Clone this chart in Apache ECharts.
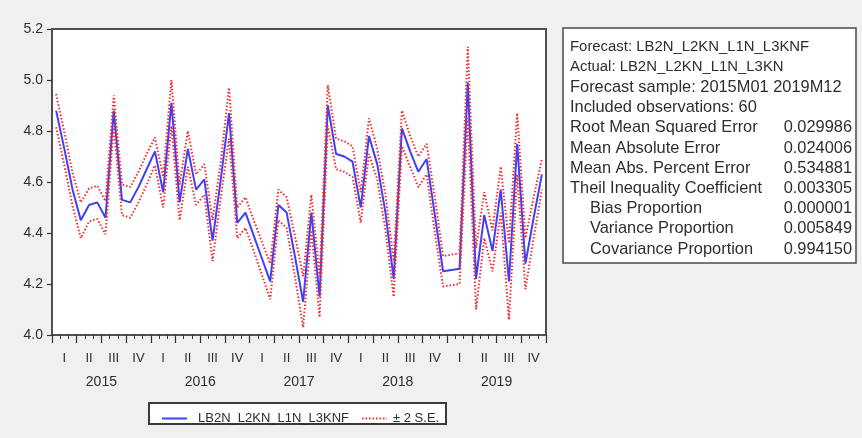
<!DOCTYPE html>
<html><head><meta charset="utf-8">
<script src="https://cdn.jsdelivr.net/npm/echarts@6/dist/echarts.min.js"></script>
<style>html,body{margin:0;padding:0;background:#f0f0f0;}#c{width:862px;height:438px;}</style>
</head><body><div id="c"></div>
<script>
const years = ['2015', '2016', '2017', '2018', '2019'];
const quarters = ['I', 'II', 'III', 'IV'];
const yTicks = [4.0, 4.2, 4.4, 4.6, 4.8, 5.0, 5.2];
const seriesNames = ['LB2N_L2KN_L1N_L3KNF', '± 2 S.E.'];

const forecast = [
  4.88, 4.73, 4.57, 4.45, 4.51, 4.52, 4.46, 4.88, 4.53, 4.52, 4.58, 4.65,
  4.72, 4.56, 4.91, 4.52, 4.73, 4.57, 4.61, 4.37, 4.61, 4.87, 4.44, 4.48,
  4.39, 4.30, 4.21, 4.51, 4.48, 4.31, 4.13, 4.48, 4.15, 4.90, 4.71, 4.70,
  4.68, 4.50, 4.78, 4.67, 4.48, 4.22, 4.81, 4.72, 4.64, 4.69, 4.47, 4.25,
  4.255, 4.26, 4.99, 4.22, 4.47, 4.33, 4.57, 4.21, 4.75, 4.28, 4.46, 4.63
];
const upper = [
  4.945, 4.795, 4.635, 4.52, 4.575, 4.585, 4.525, 4.94, 4.59, 4.58, 4.64, 4.71,
  4.775, 4.62, 5.00, 4.59, 4.80, 4.63, 4.67, 4.45, 4.68, 4.97, 4.50, 4.54,
  4.45, 4.365, 4.28, 4.57, 4.54, 4.39, 4.23, 4.55, 4.23, 4.98, 4.77, 4.76,
  4.74, 4.56, 4.85, 4.73, 4.55, 4.29, 4.88, 4.78, 4.70, 4.75, 4.54, 4.31,
  4.315, 4.32, 5.13, 4.34, 4.56, 4.41, 4.66, 4.36, 4.87, 4.38, 4.54, 4.69
];
const lower = [
  4.815, 4.665, 4.505, 4.38, 4.445, 4.455, 4.395, 4.82, 4.47, 4.46, 4.52, 4.59,
  4.665, 4.50, 4.82, 4.45, 4.66, 4.51, 4.55, 4.29, 4.54, 4.77, 4.38, 4.42,
  4.33, 4.235, 4.14, 4.45, 4.42, 4.23, 4.03, 4.41, 4.07, 4.82, 4.65, 4.64,
  4.62, 4.44, 4.71, 4.61, 4.41, 4.15, 4.74, 4.66, 4.58, 4.63, 4.40, 4.19,
  4.195, 4.20, 4.85, 4.10, 4.38, 4.25, 4.48, 4.06, 4.63, 4.18, 4.38, 4.57
];
const statsLabels = [
  'Forecast: LB2N_L2KN_L1N_L3KNF',
  'Actual: LB2N_L2KN_L1N_L3KN',
  'Forecast sample: 2015M01 2019M12',
  'Included observations: 60',
  'Root Mean Squared Error',
  'Mean Absolute Error',
  'Mean Abs. Percent Error',
  'Theil Inequality Coefficient',
  'Bias Proportion',
  'Variance Proportion',
  'Covariance Proportion'
];
const statsValues = ['', '', '', '', '0.029986', '0.024006', '0.534881', '0.003305', '0.000001', '0.005849', '0.994150'];

const months = [];
years.forEach(y => { for (let m = 1; m <= 12; m++) months.push(y + 'M' + String(m).padStart(2, '0')); });
const quarterCats = [];
years.forEach(y => quarters.forEach(q => quarterCats.push(y + '|' + q)));

const FONT = "'Liberation Sans', Arial, sans-serif";
const TXT = '#2e2e2e';
const BLUE = '#4040f4';
const RED = '#f22c2c';

const graphics = [];
// stats box
graphics.push({type: 'rect', z: 0, shape: {x: 563, y: 28, width: 293, height: 235},
  style: {fill: '#ffffff', stroke: '#4a4a4a', lineWidth: 1.5}});
statsLabels.forEach((t, i) => {
  const yc = 47 + i * 20.2;
  const small = i < 2;
  graphics.push({type: 'text', z: 1, x: i >= 8 ? 590 : 570, y: yc,
    style: {text: t, fill: TXT, font: (small ? '14.9px ' : '16.4px ') + FONT, textVerticalAlign: 'middle', textAlign: 'left'}});
  if (statsValues[i]) {
    graphics.push({type: 'text', z: 1, x: 852, y: yc,
      style: {text: statsValues[i], fill: TXT, font: '16.4px ' + FONT, textVerticalAlign: 'middle', textAlign: 'right'}});
  }
});
// legend box
graphics.push({type: 'rect', z: 0, shape: {x: 149, y: 403, width: 297, height: 21},
  style: {fill: '#ffffff', stroke: '#3a3a3a', lineWidth: 2}});

const chart = echarts.init(document.getElementById('c'), null, {renderer: 'canvas'});
chart.setOption({
  animation: false,
  backgroundColor: '#f0f0f0',
  textStyle: {fontFamily: FONT},
  grid: {left: 52, top: 29, width: 494, height: 306, show: true, backgroundColor: '#ffffff',
    borderColor: '#4f4f4f', borderWidth: 2},
  legend: {
    left: 156, top: 407, itemWidth: 25, itemHeight: 10, itemGap: 12,
    itemStyle: {opacity: 0},
    textStyle: {fontFamily: FONT, fontSize: 13, color: TXT},
    data: [
      {name: seriesNames[0], textStyle: {padding: [0, 0, 0, 6]}},
      {name: seriesNames[1], textStyle: {padding: [0, 0, 0, 1]}}
    ]
  },
  xAxis: [
    {type: 'category', data: months, gridIndex: 0, position: 'bottom',
      axisLine: {show: false}, axisLabel: {show: false},
      axisTick: {show: true, interval: 0, length: 4, lineStyle: {color: '#333', width: 1}}},
    {type: 'category', data: quarterCats, gridIndex: 0, position: 'bottom',
      axisLine: {show: false},
      axisTick: {show: true, interval: 0, length: 8, lineStyle: {color: '#333', width: 1.2}},
      axisLabel: {interval: 0, margin: 17, fontSize: 13, color: TXT, fontFamily: FONT,
        formatter: v => v.split('|')[1]}},
    {type: 'category', data: years, gridIndex: 0, position: 'bottom',
      axisLine: {show: false}, axisTick: {show: false},
      axisLabel: {interval: 0, margin: 40, fontSize: 14, color: TXT, fontFamily: FONT}}
  ],
  yAxis: {
    type: 'value', min: yTicks[0], max: yTicks[yTicks.length - 1], interval: 0.2,
    axisLine: {show: false}, splitLine: {show: false},
    axisTick: {show: true, length: 5, lineStyle: {color: '#333', width: 1.2}},
    axisLabel: {margin: 9, fontSize: 14, color: TXT, fontFamily: FONT, formatter: v => v.toFixed(1)}
  },
  series: [
    {name: seriesNames[0], type: 'line', xAxisIndex: 0, data: forecast, symbol: 'none', z: 2,
      itemStyle: {color: BLUE}, lineStyle: {color: BLUE, width: 2}},
    {name: seriesNames[1], type: 'line', xAxisIndex: 0, data: upper, symbol: 'none', z: 3,
      itemStyle: {color: RED}, lineStyle: {color: RED, width: 2, type: [1.5, 2]}},
    {name: seriesNames[1], type: 'line', xAxisIndex: 0, data: lower, symbol: 'none', z: 3,
      itemStyle: {color: RED}, lineStyle: {color: RED, width: 2, type: [1.5, 2]}}
  ],
  graphic: graphics
});
</script>
</body></html>
